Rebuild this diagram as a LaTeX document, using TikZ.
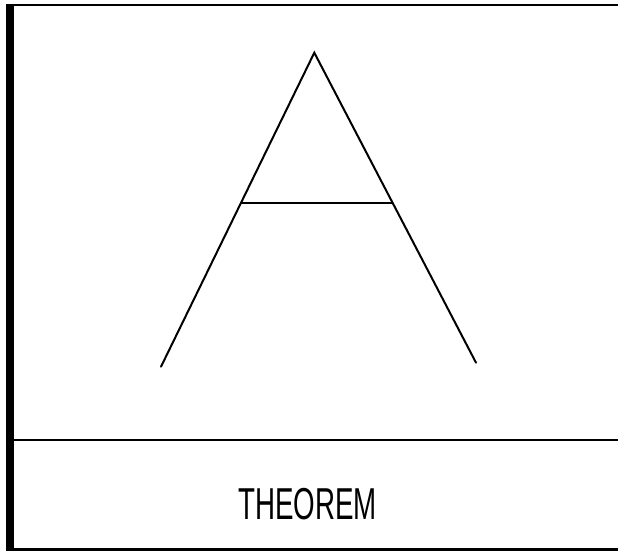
\documentclass[tikz,border=0pt]{standalone}
\usepackage{fontspec}
\setmainfont{Liberation Sans}
\begin{document}
\begin{tikzpicture}[x=1pt,y=-1pt,
  edge/.style={line width=2pt, line cap=round, black},
  frame/.style={line width=2.5pt, black},
  label/.style={inner sep=0pt, xscale=0.62, font=\fontsize{44.7}{50}\selectfont}]
\useasboundingbox (0,0) rectangle (618,551);
\fill[white] (0,0) rectangle (618,551);
% frame
\coordinate (tl) at (10,5);
\coordinate (tr) at (618,5);
\coordinate (bl) at (10,549.5);
\coordinate (br) at (618,549.5);
\coordinate (ml) at (10,440);
\coordinate (mr) at (618,440);
\draw[frame] (tl) -- (tr);
\draw[frame] (ml) -- (mr);
\draw[frame] (bl) -- (br);
\draw[line width=7.5pt, black] (10,4) -- (10,551);
% triangle
\coordinate (apex) at (314.3,52.7);
\coordinate (lb) at (161,366.7);
\coordinate (rb) at (476,362.7);
\coordinate (cl) at (241.7,203.3);
\coordinate (cr) at (392.3,203.3);
\draw[edge] (lb) -- (apex) -- (rb);
\draw[edge] (cl) -- (cr);
% text
\node[label] (thm) at (307.5,504) {THEOREM};
\end{tikzpicture}
\end{document}
